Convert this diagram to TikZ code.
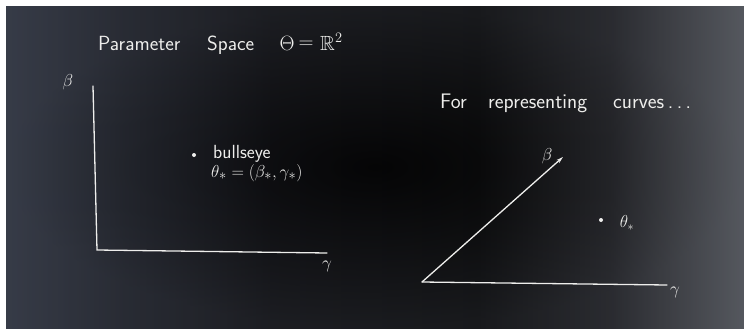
\documentclass[tikz,border=0pt]{standalone}
\usepackage{amssymb}
\usetikzlibrary{arrows.meta}
\definecolor{chalk}{RGB}{238,238,236}
\definecolor{vign}{RGB}{70,74,84}
\pgfdeclarehorizontalshading{board}{100bp}{rgb(0bp)=(0.19,0.21,0.26); rgb(25bp)=(0.19,0.21,0.26); rgb(33bp)=(0.11,0.12,0.15); rgb(43bp)=(0.04,0.04,0.05); rgb(57bp)=(0.02,0.02,0.02); rgb(66bp)=(0.12,0.12,0.13); rgb(75bp)=(0.36,0.37,0.39); rgb(100bp)=(0.36,0.37,0.39)}
\begin{document}
\begin{tikzpicture}[x=1pt,y=-1pt,
  chalkline/.style={draw=chalk, line width=1.3pt, line cap=round},
  titletxt/.style={text=chalk, inner sep=0pt, anchor=base west, font=\sffamily\fontsize{20.5}{24}\selectfont},
  smalltxt/.style={text=chalk, inner sep=0pt, anchor=base west, font=\sffamily\fontsize{19}{22}\selectfont},
  bigtxt/.style={text=chalk, inner sep=0pt, anchor=base west, font=\sffamily\fontsize{21}{25}\selectfont},
  mathlbl/.style={text=chalk, inner sep=0pt, anchor=center, font=\fontsize{17}{20}\selectfont},
  chalkdot/.style={circle, fill=chalk, inner sep=0pt, minimum size=4pt}]
\useasboundingbox (0,0) rectangle (744,332);
\fill[white] (0,0) rectangle (744,332);
\shade[shading=board] (6,6) rectangle (744,328);
\shade[inner color=black, outer color=vign, opacity=0.3] (6,6) rectangle (744,328);
% title
\node[titletxt] (tP) at (98,50) {Parameter};
\node[titletxt] (tS) at (207,50) {Space};
\node[titletxt, anchor=center] (tTh) at (287,43) {$\Theta$};
\node[titletxt, anchor=center] (tEq) at (306,45) {$=$};
\node[titletxt] (tR) at (320,50) {$\mathbb{R}^2$};
% left axes
\coordinate (ltop) at (93,86);
\coordinate (lorig) at (97,250);
\coordinate (lend) at (327,253);
\draw[chalkline] (ltop) -- (lorig) -- (lend);
\node[mathlbl] (lbeta) at (68,82) {$\beta$};
\node[mathlbl] (lgamma) at (327,266) {$\gamma$};
\node[chalkdot] (bdot) at (194,155) {};
\node[smalltxt] (bull) at (213,158) {bullseye};
\node[smalltxt] (thstar) at (211,177) {$\theta_*=(\beta_*,\gamma_*)$};
% right
\node[bigtxt] (wFor) at (440,108) {For};
\node[bigtxt] (wRep) at (488,108) {representing};
\node[bigtxt] (wCur) at (613,108) {curves\,.\,.\,.};
\coordinate (rorig) at (422,282);
\coordinate (rtop) at (563,157);
\coordinate (rend) at (667,285);
\draw[chalkline, -{Stealth[length=7pt,width=4pt]}] (rorig) -- (rtop);
\draw[chalkline] (rorig) -- (rend);
\node[mathlbl] (rbeta) at (547,156) {$\beta$};
\node[mathlbl] (rgamma) at (675,292) {$\gamma$};
\node[chalkdot] (tdot) at (601,220) {};
\node[mathlbl] (rth) at (627,223) {$\theta_*$};
\end{tikzpicture}
\end{document}
